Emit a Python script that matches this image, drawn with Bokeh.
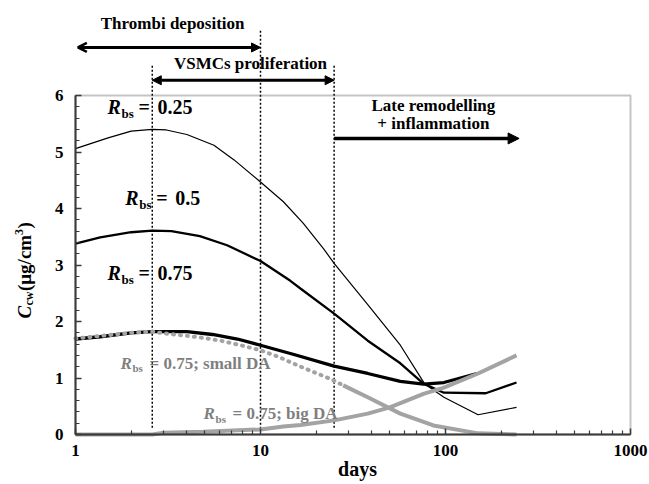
import math
from bokeh.plotting import figure
from bokeh.models import (Range1d, FixedTicker, PrintfTickFormatter, Label, Arrow,
                          NormalHead, OpenHead, BoxAnnotation)
from bokeh.embed import file_html
from bokeh.resources import INLINE

FONT = "Liberation Serif"

# ---------------- data ----------------
days_r025 = [1, 1.5, 2, 2.6, 3.1, 4, 5.6, 7.2, 10, 13.3, 17, 22, 25, 38, 57, 77, 98, 150, 242]
c_r025 = [5.06, 5.25, 5.37, 5.40, 5.39, 5.31, 5.12, 4.86, 4.47, 4.12, 3.74, 3.28, 3.03, 2.30, 1.58, 0.90, 0.66, 0.35, 0.48]

days_r05 = [1, 1.36, 2, 2.6, 3.3, 4.7, 6.6, 10, 14.5, 16.5, 25, 38, 57, 76, 98, 165, 242]
c_r05 = [3.38, 3.49, 3.58, 3.61, 3.60, 3.51, 3.35, 3.07, 2.72, 2.58, 2.14, 1.66, 1.26, 0.90, 0.74, 0.73, 0.92]

days_r075 = [1, 1.36, 2, 2.6, 4, 5.5, 7.5, 10, 15, 25, 38, 57, 76, 98, 148]
c_r075 = [1.69, 1.73, 1.80, 1.82, 1.82, 1.77, 1.69, 1.58, 1.42, 1.21, 1.08, 0.94, 0.89, 0.92, 1.08]

days_small_da_dotted = [1, 2, 2.6, 3, 3.9, 4.9, 6.1, 7.8, 10, 12.4, 16.5, 24, 28]
c_small_da_dotted = [1.70, 1.80, 1.82, 1.79, 1.75, 1.71, 1.66, 1.58, 1.49, 1.38, 1.20, 0.98, 0.87]
days_small_da_solid = [28, 38, 57, 86, 150, 242]
c_small_da_solid = [0.87, 0.66, 0.37, 0.16, 0.02, 0.0]

days_big_da = [1, 2.6, 3, 4.9, 10, 13.3, 16.5, 25, 38, 50, 76, 98, 150, 242]
c_big_da = [0, 0, 0.03, 0.05, 0.09, 0.14, 0.17, 0.25, 0.37, 0.48, 0.72, 0.83, 1.08, 1.40]

phase_days = [2.6, 10, 25]
phase_top = [6.53, 7.15, 6.53]
phase_bottom = [0.12, 0.10, 0.12]

x_ticks = [1, 10, 100, 1000]
x_minor = [m * 10 ** e for e in range(3) for m in range(2, 10)]
y_ticks = [0, 1, 2, 3, 4, 5, 6]
y_minor = [i / 5 for i in range(31)]

rbs_days = [1.49, 1.86, 1.49]
rbs_vals = [5.79, 4.18, 2.85]
rbs_values_text = ["0.25", "0.5", "0.75"]

da_days = [1.75, 4.92]
da_vals = [1.26, 0.37]
da_rest = ["= 0.75; small DA", "= 0.75; big DA"]

BLACK = "#000000"
GRAY_LINE = "#a3a3a3"
GRAY_TEXT = "#7f7f7f"
FRAME = "#3a3a3a"

# pixel geometry of the reference: decade = 185 px, unit = 56.5 px
X_LO, X_HI = 10 ** (-75 / 185), 10 ** ((649 - 75) / 185)
Y_LO, Y_HI = -50 / 56.5, 434 / 56.5

p = figure(width=649, height=484, x_axis_type="log",
           x_range=Range1d(X_LO, X_HI), y_range=Range1d(Y_LO, Y_HI),
           output_backend="svg", toolbar_location=None,
           min_border_left=0, min_border_right=0, min_border_top=0, min_border_bottom=0)
p.grid.visible = False
p.outline_line_color = None
p.background_fill_color = "white"
p.border_fill_color = "white"

for ax, ticks, minor in ((p.xaxis[0], x_ticks, x_minor), (p.yaxis[0], y_ticks, y_minor)):
    ax.ticker = FixedTicker(ticks=ticks, minor_ticks=minor)
    ax.major_tick_in = 6
    ax.major_tick_out = 0
    ax.minor_tick_in = 4
    ax.minor_tick_out = 0
    ax.axis_line_width = 2
    ax.axis_line_color = FRAME
    ax.major_tick_line_color = FRAME
    ax.minor_tick_line_color = FRAME
    ax.major_tick_line_width = 1.5
    ax.minor_tick_line_width = 1.2
    ax.major_label_text_font = FONT
    ax.major_label_text_font_style = "bold"
    ax.major_label_text_font_size = "17px"
    ax.major_label_text_color = "black"

p.xaxis[0].formatter = PrintfTickFormatter(format="%d")
p.xaxis[0].major_label_standoff = 10
p.xaxis[0].bounds = (1, 1000)
p.xaxis[0].fixed_location = 0
p.yaxis[0].formatter = PrintfTickFormatter(format="%d")
p.yaxis[0].bounds = (0, 6)
p.yaxis[0].major_label_standoff = 12
p.yaxis[0].fixed_location = 1

p.add_layout(BoxAnnotation(left=1, right=1000, bottom=0, top=6, fill_color=None,
                           line_color=FRAME, line_width=2))

# phase separators
p.segment(x0=phase_days, y0=phase_bottom, x1=phase_days, y1=phase_top,
          line_color=BLACK, line_width=1.5, line_dash="2 2")

# curves
p.line(days_r025, c_r025, line_color=BLACK, line_width=1.2)
p.line(days_r05, c_r05, line_color=BLACK, line_width=2.3)
p.line(days_r075, c_r075, line_color=BLACK, line_width=3.3)
p.line(days_big_da, c_big_da, line_color=GRAY_LINE, line_width=4)
p.line(days_small_da_solid, c_small_da_solid, line_color=GRAY_LINE, line_width=4)
p.line(days_small_da_dotted, c_small_da_dotted, line_color=GRAY_LINE, line_width=4,
       line_dash="1 6", line_cap="round")

# arrows
p.add_layout(Arrow(start=OpenHead(size=9, line_width=2.5), end=NormalHead(size=9, fill_color=BLACK),
                   x_start=1.03, y_start=6.85, x_end=10, y_end=6.85, line_width=3))
p.add_layout(Arrow(start=NormalHead(size=9, fill_color=BLACK), end=NormalHead(size=9, fill_color=BLACK),
                   x_start=phase_days[0], y_start=6.27, x_end=phase_days[2], y_end=6.27, line_width=3))
p.add_layout(Arrow(end=NormalHead(size=11, fill_color=BLACK),
                   x_start=phase_days[2], y_start=5.24, x_end=250, y_end=5.24, line_width=3.5))


def lab(x, y, text, size, style="bold", color=BLACK, xo=0, yo=0, align="left", baseline="middle",
        x_units="data", y_units="data", angle=0):
    p.add_layout(Label(x=x, y=y, x_units=x_units, y_units=y_units, text=text, x_offset=xo, y_offset=yo,
                       text_font=FONT, text_font_style=style, text_font_size=f"{size}px",
                       text_color=color, text_align=align, text_baseline=baseline, angle=angle))


lab(3.35, 7.27, "Thrombi deposition", 17, align="center")
lab(8.83, 6.57, "VSMCs proliferation", 17, align="center")
lab(86, 5.82, "Late remodelling", 17, align="center")
lab(86, 5.50, "+ inflammation", 17, align="center")

for d, v, val in zip(rbs_days, rbs_vals, rbs_values_text):
    lab(d, v, "R", 20, style="bold italic")
    lab(d, v, "bs", 13, xo=14, yo=-6)
    lab(d, v, "=", 20, xo=31)
    lab(d, v, val, 20, xo=50)

for d, v, rest in zip(da_days, da_vals, da_rest):
    lab(d, v, "R", 17, style="bold italic", color=GRAY_TEXT)
    lab(d, v, "bs", 11, color=GRAY_TEXT, xo=12, yo=-5)
    lab(d, v, rest, 17, color=GRAY_TEXT, xo=29)

# axis titles (screen units, from the bottom-left corner)
lab(357, 16, "days", 20, align="center", baseline="middle", x_units="screen", y_units="screen")
ya_x = 24
ya_y = 166
ang = math.pi / 2
lab(ya_x, ya_y, "C", 19, style="bold italic", x_units="screen", y_units="screen", angle=ang)
lab(ya_x + 4, ya_y + 13, "cw", 12, x_units="screen", y_units="screen", angle=ang)
lab(ya_x, ya_y + 27.5, "(\u03bcg/cm", 19, x_units="screen", y_units="screen", angle=ang)
lab(ya_x - 6, ya_y + 83.5, "3", 12, x_units="screen", y_units="screen", angle=ang)
lab(ya_x, ya_y + 90, ")", 19, x_units="screen", y_units="screen", angle=ang)

open("out.html", "w").write(file_html(p, INLINE))
